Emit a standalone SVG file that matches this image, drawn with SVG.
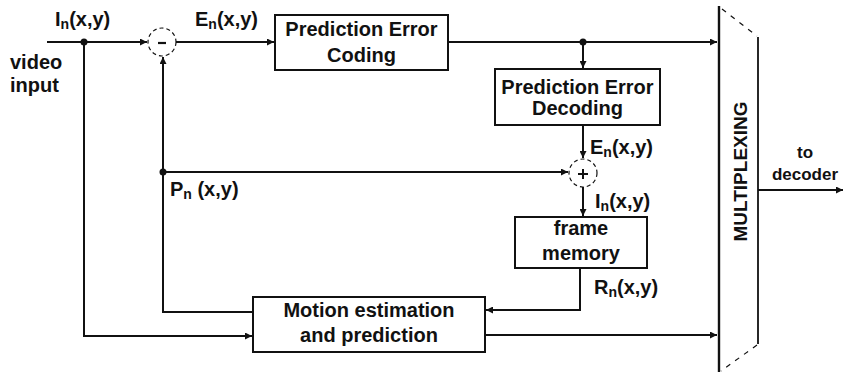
<svg xmlns="http://www.w3.org/2000/svg" width="844" height="372" viewBox="0 0 844 372">
<defs>
<style>
text{font-family:"Liberation Sans",Arial,sans-serif;font-weight:bold;fill:#111}
.box{fill:#fff;stroke:#111;stroke-width:2}
.ln{fill:none;stroke:#111;stroke-width:2}
.circ{fill:#fff;stroke:#111;stroke-width:1.2;stroke-dasharray:4 3}
.lbl{font-size:20px}
.bt{font-size:20px;text-anchor:middle}
.sub{font-size:14px}
</style>
<marker id="ah" viewBox="0 0 10 10" refX="10" refY="5" markerWidth="9" markerHeight="7" markerUnits="userSpaceOnUse" orient="auto">
<path d="M0,0 L10,5 L0,10 Z" fill="#111"/>
</marker>
</defs>
<rect width="844" height="372" fill="#fff"/>
<g id="connectors">
<line class="ln" x1="47" y1="42" x2="147" y2="42" marker-end="url(#ah)"/>
<polyline class="ln" points="84,42 84,336 252,336" marker-end="url(#ah)"/>
<line class="ln" x1="176" y1="42" x2="274" y2="42" marker-end="url(#ah)"/>
<line class="ln" x1="448" y1="42" x2="717" y2="42" marker-end="url(#ah)"/>
<line class="ln" x1="583" y1="42" x2="583" y2="68" marker-end="url(#ah)"/>
<line class="ln" x1="583" y1="125" x2="583" y2="158" marker-end="url(#ah)"/>
<line class="ln" x1="163" y1="172" x2="568" y2="172" marker-end="url(#ah)"/>
<polyline class="ln" points="253,312 163,312 163,57" marker-end="url(#ah)"/>
<line class="ln" x1="583" y1="187" x2="583" y2="216" marker-end="url(#ah)"/>
<polyline class="ln" points="580,268 580,310 486,310" marker-end="url(#ah)"/>
<line class="ln" x1="485" y1="335" x2="717" y2="335" marker-end="url(#ah)"/>
<line class="ln" x1="758" y1="190" x2="843" y2="190" marker-end="url(#ah)"/>
<circle cx="84" cy="42" r="3.5" fill="#111"/>
<circle cx="583" cy="42" r="3.5" fill="#111"/>
<circle cx="163" cy="172" r="3.5" fill="#111"/>
</g>
<g id="input-label">
<text class="lbl" x="55" y="26">I<tspan class="sub" dy="3">n</tspan><tspan dy="-3">(x,y)</tspan></text>
<text style="font-size:20px" x="10" y="69">video</text>
<text style="font-size:20px" x="10" y="92">input</text>
</g>
<g id="subtract">
<circle class="circ" cx="162" cy="42" r="14"/>
<line x1="158" y1="43" x2="166" y2="43" stroke="#111" stroke-width="2.2"/>
</g>
<g id="error-label">
<text class="lbl" x="195" y="26">E<tspan class="sub" dy="3">n</tspan><tspan dy="-3">(x,y)</tspan></text>
</g>
<g id="pec">
<rect class="box" x="275" y="15" width="173" height="55"/>
<text class="bt" x="361.5" y="36">Prediction Error</text>
<text class="bt" x="361.5" y="62">Coding</text>
</g>
<g id="ped">
<rect class="box" x="495" y="69" width="165" height="56"/>
<text class="bt" x="577.5" y="94">Prediction Error</text>
<text class="bt" x="577.5" y="115">Decoding</text>
</g>
<g id="add">
<circle class="circ" cx="583" cy="173" r="14"/>
<line x1="578" y1="174" x2="588" y2="174" stroke="#111" stroke-width="2"/>
<line x1="583" y1="169" x2="583" y2="179" stroke="#111" stroke-width="2"/>
<text class="lbl" x="590" y="154">E<tspan class="sub" dy="3">n</tspan><tspan dy="-3">(x,y)</tspan></text>
<text class="lbl" x="595" y="208">I<tspan class="sub" dy="3">n</tspan><tspan dy="-3">(x,y)</tspan></text>
</g>
<g id="pred-label">
<text class="lbl" x="170" y="196">P<tspan class="sub" dy="3">n</tspan><tspan dy="-3"> (x,y)</tspan></text>
</g>
<g id="frame">
<rect class="box" x="515" y="217" width="132" height="51"/>
<text class="bt" x="581" y="235">frame</text>
<text class="bt" x="581" y="260">memory</text>
<text class="lbl" x="594" y="294">R<tspan class="sub" dy="3">n</tspan><tspan dy="-3">(x,y)</tspan></text>
</g>
<g id="motion">
<rect class="box" x="253" y="297" width="232" height="55"/>
<text class="bt" x="369" y="317">Motion estimation</text>
<text class="bt" x="369" y="342">and prediction</text>
</g>
<g id="mux">
<line x1="719" y1="6" x2="719" y2="372" stroke="#111" stroke-width="2.4"/>
<line x1="758" y1="37" x2="758" y2="344" stroke="#111" stroke-width="1.8"/>
<line x1="722" y1="9" x2="757" y2="36" stroke="#111" stroke-width="1.2" stroke-dasharray="5 6"/>
<line x1="757" y1="345" x2="721" y2="371" stroke="#111" stroke-width="1.2" stroke-dasharray="5 6"/>
<text style="font-size:19px;text-anchor:middle" x="747" y="171.5" transform="rotate(-90 747 171.5)">MULTIPLEXING</text>
</g>
<g id="output">
<text style="font-size:17px;text-anchor:middle" x="805" y="158">to</text>
<text style="font-size:17px;text-anchor:middle" x="805" y="180">decoder</text>
</g>
</svg>
